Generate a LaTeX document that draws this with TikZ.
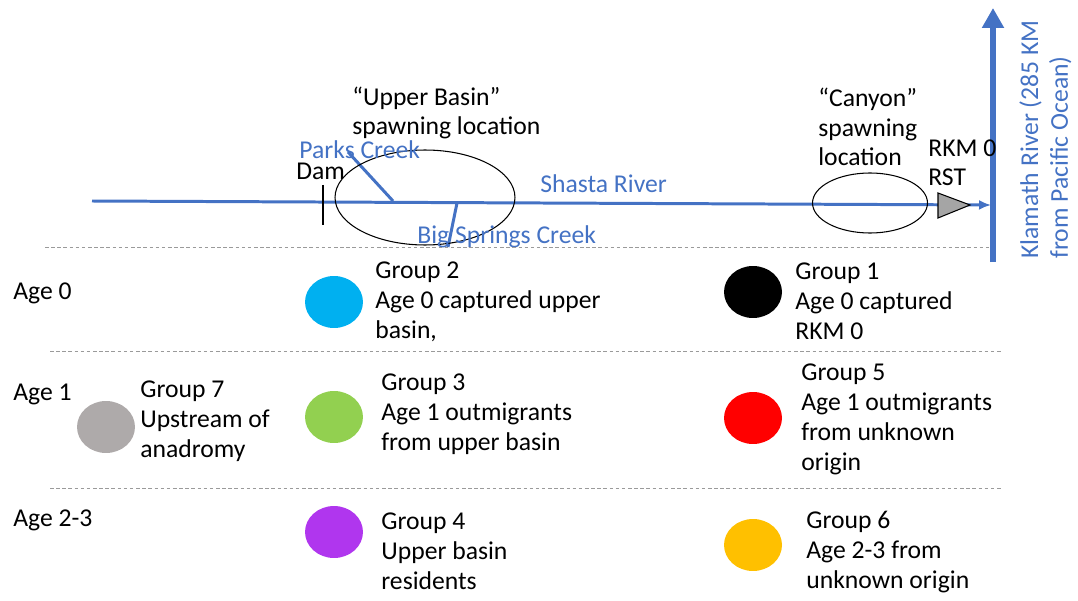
\documentclass[tikz,border=0pt]{standalone}
\usepackage{fontspec}
\setmainfont{Carlito}
\usetikzlibrary{shapes.geometric,arrows.meta}
\definecolor{riverblue}{HTML}{4472C4}
\definecolor{sepgray}{HTML}{9A9A9A}
\definecolor{rstgray}{HTML}{A5A5A5}
\definecolor{grpcyan}{HTML}{00B0F0}
\definecolor{grpgreen}{HTML}{92D050}
\definecolor{grppurple}{HTML}{B036EE}
\definecolor{grpgray}{HTML}{AEAAAA}
\definecolor{grpred}{HTML}{FF0000}
\definecolor{grpgold}{HTML}{FFC000}
\begin{document}
\begin{tikzpicture}[x=0.02cm, y=-0.02cm,
  every node/.style={font=\fontsize{14.6}{17}\selectfont},
  river/.style={draw=riverblue, line width=1.7pt},
  lbl/.style={inner sep=0pt, anchor=base west, align=left},
  rivlbl/.style={lbl, text=riverblue},
  dot/.style={ellipse, inner sep=0pt, minimum width=1.16cm, minimum height=1.04cm},
  agesep/.style={draw=sepgray, line width=0.5pt, dash pattern=on 2pt off 1.5pt}]
\useasboundingbox (0,0) rectangle (1078,601);

% rivers
\coordinate (shastasrc) at (92,201);
\coordinate (shastamouth) at (991,205);
\draw[river, -{Latex[length=0.24cm, width=0.2cm]}] (shastasrc) -- (shastamouth);
\coordinate (klamathlow) at (993,262);
\coordinate (klamathup) at (993,8);
\draw[river, line width=3.4pt, -{Triangle[length=0.4cm, width=0.42cm]}] (klamathlow) -- (klamathup);
\coordinate (parkstop) at (348,152);
\coordinate (parksjn) at (393,201);
\draw[river] (parkstop) -- (parksjn);
\coordinate (bigsprjn) at (457,203);
\coordinate (bigsprend) at (448,247);
\draw[river] (bigsprjn) -- (bigsprend);

% dam, spawning areas, trap
\coordinate (damtop) at (323,185);
\coordinate (dambot) at (323,225);
\draw[line width=1.1pt] (damtop) -- (dambot);
\node[draw, ellipse, line width=0.6pt, minimum width=3.6cm, minimum height=1.9cm] (ubasin) at (425,197.5) {};
\node[draw, ellipse, line width=0.6pt, minimum width=2.3cm, minimum height=1.2cm] (canyon) at (870,203) {};
\filldraw[fill=rstgray, draw=black, line width=0.6pt] (938,193) -- (938,218) -- (970,205) -- cycle;

% map labels (base = last line)
\node[lbl] (ubtxt) at (352,135) {“Upper Basin”\\spawning location};
\node[lbl] (cytxt) at (818,166) {“Canyon”\\spawning\\location};
\node[lbl] (rkm) at (928,186) {RKM 0\\RST};
\node[lbl] (dam) at (296,180) {Dam};
\node[rivlbl] (parks) at (299,159) {Parks Creek};
\node[rivlbl] (shasta) at (540,193) {Shasta River};
\node[rivlbl] (bigspr) at (417,243) {Big Springs Creek};
\node[lbl, text=riverblue, rotate=90, anchor=north west] (klamath) at (1019,259) {Klamath River (285 KM\\from Pacific Ocean)};

% age rows
\coordinate (sep1a) at (45,247);
\coordinate (sep1b) at (990,247);
\coordinate (sep2a) at (50,351);
\coordinate (sep2b) at (1003,351);
\coordinate (sep3a) at (50,488);
\coordinate (sep3b) at (1003,488);
\draw[agesep] (sep1a) -- (sep1b);
\draw[agesep] (sep2a) -- (sep2b);
\draw[agesep] (sep3a) -- (sep3b);
\node[lbl] (age0) at (13,299) {Age 0};
\node[lbl] (age1) at (13,400) {Age 1};
\node[lbl] (age23) at (13,526) {Age 2-3};

% groups
\node[dot, fill=grpcyan] (g2dot) at (334,302) {};
\node[lbl] (g2) at (375,338) {Group 2\\Age 0 captured upper\\basin,};
\node[dot, fill=black] (g1dot) at (753,292) {};
\node[lbl] (g1) at (795,339) {Group 1\\Age 0 captured\\RKM 0};
\node[dot, fill=grpgray] (g7dot) at (106,427) {};
\node[lbl] (g7) at (140,457) {Group 7\\Upstream of\\anadromy};
\node[dot, fill=grpgreen] (g3dot) at (334,417) {};
\node[lbl] (g3) at (381,450) {Group 3\\Age 1 outmigrants\\from upper basin};
\node[dot, fill=grpred] (g5dot) at (753,418) {};
\node[lbl] (g5) at (801,470) {Group 5\\Age 1 outmigrants\\from unknown\\origin};
\node[dot, fill=grppurple] (g4dot) at (334,532) {};
\node[lbl] (g4) at (381,589) {Group 4\\Upper basin\\residents};
\node[dot, fill=grpgold] (g6dot) at (753,545) {};
\node[lbl] (g6) at (806,588) {Group 6\\Age 2-3 from\\unknown origin};
\end{tikzpicture}
\end{document}
